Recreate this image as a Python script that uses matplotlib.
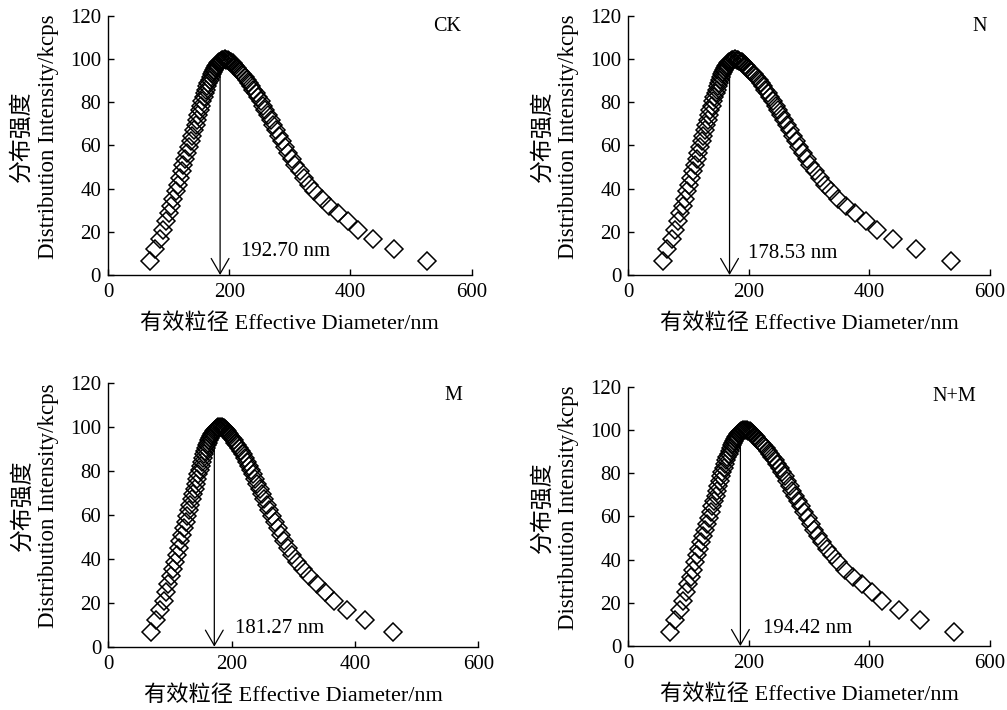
import numpy as np
import matplotlib
matplotlib.use("Agg")
import matplotlib.pyplot as plt

plt.rcParams['font.family'] = ['Liberation Serif', 'Noto Sans CJK SC']

# shared intensity levels (left flank rising, then right flank falling)
intensity = [6.6, 12, 16.6, 20.9, 24.8, 28.5, 32, 35.4, 38.7, 41.9, 45, 48, 51, 53.8,
             56.6, 59.3, 62, 64.6, 67.1, 69.5, 71.9, 74.2, 76.4, 78.5, 80.5, 82.4, 84.2,
             85.9, 87.5, 89, 90.4, 91.7, 92.9, 94, 95, 95.9, 96.7, 97.4, 98, 98.5, 98.9,
             99.3, 99.6, 99.8, 100,
             99.8, 99.6, 99.3, 98.9, 98.5, 98, 97.4, 96.7, 95.9, 95, 94, 92.9, 91.7, 90.4,
             89, 87.5, 85.9, 84.2, 82.4, 80.5, 78.5, 76.4, 74.2, 71.9, 69.5, 67.1, 64.6,
             62, 59.3, 56.6, 53.8, 51, 48, 45, 41.9, 38.7, 35.4, 32, 28.5, 24.8, 20.9,
             16.6, 12, 6.6]

diam_ck = [70, 77.6, 85.8, 91.5, 96, 100.3, 104.2, 107.9, 111.6, 115.0, 118.3, 121.4,
           124.6, 127.7, 130.8, 133.7, 136.6, 139.3, 142.0, 144.5, 146.9, 149.2, 151.4,
           153.5, 155.6, 157.9, 160.0, 162.1, 164.0, 165.8, 167.6, 169.6, 171.4, 173.0,
           174.5, 176.4, 178.2, 179.7, 181, 183, 184.6, 186.2, 187.7, 189.4, 193,
           195.4, 197.8, 199.9, 201.8, 203.7, 206, 207.8, 209.9, 212.3, 215, 218.2, 221.7,
           225.6, 229.7, 233.2, 236.5, 240, 243.8, 247.7, 251.9, 255.9, 259.8, 264, 268.4,
           273, 277.5, 282.3, 287.2, 292.5, 297.8, 303.4, 309, 316, 323.5, 331.3, 340.7,
           352.6, 364.8, 378.8, 395.3, 411.8, 437.6, 472.2, 526]

diam_n = [56.8, 64.3, 72.3, 77.8, 82.2, 86.4, 90.2, 93.9, 97.5, 100.8, 104.0, 107.0,
          110.2, 113.2, 116.2, 119.1, 121.9, 124.5, 127.2, 129.6, 132.0, 134.2, 136.4,
          138.4, 140.5, 142.7, 144.8, 146.8, 148.7, 150.4, 152.2, 154.1, 155.9, 157.5,
          158.9, 160.8, 162.5, 164.0, 165.3, 167.2, 168.8, 170.4, 171.8, 173.5, 177,
          179.6, 182.2, 184.4, 186.5, 188.5, 191.0, 192.9, 195.2, 197.7, 200.7, 204.1,
          207.9, 212.0, 216.5, 220.2, 223.8, 227.5, 231.6, 235.8, 240.3, 244.6, 248.8,
          253.3, 258.1, 263.0, 267.8, 273.0, 278.3, 284.0, 289.7, 295.7, 301.7, 309.2,
          317.3, 325.7, 335.8, 348.6, 361.7, 376.7, 394.5, 412.2, 439.9, 477.1, 535.0]

diam_m = [70.1, 77.0, 84.4, 89.6, 93.7, 97.6, 101.2, 104.6, 107.9, 111.0, 114.0, 116.8,
          119.8, 122.6, 125.4, 128.0, 130.7, 133.1, 135.6, 137.9, 140.0, 142.1, 144.1,
          146.1, 148.0, 150.1, 152.0, 153.9, 155.6, 157.2, 158.9, 160.7, 162.3, 163.8,
          165.2, 166.9, 168.5, 169.9, 171.1, 172.9, 174.4, 175.8, 177.2, 178.7, 182,
          184.0, 186.0, 187.8, 189.4, 191.0, 192.9, 194.4, 196.2, 198.2, 200.5, 203.2,
          206.1, 209.4, 212.8, 215.8, 218.5, 221.5, 224.7, 227.9, 231.5, 234.8, 238.1,
          241.6, 245.3, 249.2, 253.0, 257.0, 261.1, 265.6, 270.0, 274.7, 279.4, 285.3,
          291.6, 298.2, 306.1, 316.1, 326.3, 338.1, 351.9, 365.8, 387.5, 416.5, 461.7]

diam_nm = [69.0, 76.8, 85.1, 90.9, 95.4, 99.8, 103.8, 107.5, 111.3, 114.8, 118.1, 121.3,
           124.5, 127.7, 130.8, 133.8, 136.7, 139.4, 142.2, 144.7, 147.2, 149.5, 151.7,
           153.9, 156.0, 158.3, 160.5, 162.6, 164.5, 166.4, 168.2, 170.2, 172.1, 173.7,
           175.2, 177.1, 179.0, 180.5, 181.8, 183.8, 185.5, 187.1, 188.6, 190.3, 194,
           196.5, 199.0, 201.2, 203.2, 205.1, 207.5, 209.4, 211.6, 214.1, 216.9, 220.2,
           223.8, 227.9, 232.2, 235.8, 239.2, 242.9, 246.8, 250.9, 255.3, 259.4, 263.5,
           267.8, 272.4, 277.2, 281.9, 286.9, 292.0, 297.5, 303.0, 308.8, 314.6, 321.9,
           329.7, 337.8, 347.6, 360.0, 372.7, 387.2, 404.4, 421.6, 448.4, 484.4, 540.3]

panel_names = ['CK', 'N', 'M', 'N+M']
effective_diam = ['192.70 nm', '178.53 nm', '181.27 nm', '194.42 nm']
arrow_x = [185, 168, 172, 186]
label_x = [220, 199, 205, 223]
label_y = [10.8, 10, 8.4, 8.2]

FIG_W, FIG_H = 1007, 710
# axes boxes in figure fractions (left, bottom, width, height)
boxes = [[0.1072, 0.6127, 0.3612, 0.3648],
         [0.6239, 0.6127, 0.3592, 0.3648],
         [0.1075, 0.0892, 0.3674, 0.3714],
         [0.6239, 0.0901, 0.3592, 0.3652]]
name_pos = [(0.972, 0.961), (0.991, 0.961), (0.958, 0.951), (0.963, 0.961)]


def draw_panel(ax, box, diam, name, text, ax_x, tx, ty, npos):
    ax.plot(diam, intensity, ls='none', marker='D', ms=8.8, mfc='none',
            mec='black', mew=1.1, clip_on=False)
    ax.annotate('', xy=(ax_x, 0), xytext=(ax_x, 97),
                arrowprops=dict(arrowstyle='->,head_length=0.55,head_width=0.32',
                                lw=0.9, color='black', shrinkA=0, shrinkB=0,
                                mutation_scale=20))
    ax.text(tx, ty, text, fontsize=15, va='center', ha='left')
    ax.text(npos[0], npos[1], name, fontsize=14.5, ha='right', va='center',
            transform=ax.transAxes)

    ax.set_xlim(0, 600)
    ax.set_ylim(0, 120)
    ax.set_xticks([0, 200, 400, 600])
    ax.set_yticks(range(0, 121, 20))
    for s in ['top', 'right']:
        ax.spines[s].set_visible(False)
    for s in ['left', 'bottom']:
        ax.spines[s].set_linewidth(1.0)
    ax.tick_params(direction='in', length=4, width=1.0, labelsize=15)
    ax.tick_params(axis='x', pad=6)
    ax.tick_params(axis='y', pad=5)
    ax.set_xlabel('有效粒径 Effective Diameter/nm', fontsize=16, labelpad=8)
    ax.set_ylabel('分布强度\nDistribution Intensity/kcps', fontsize=16.5,
                  linespacing=1.3)
    # place the y label a little above centre, as in the original
    ax.yaxis.set_label_coords(-49.0 / (box[2] * FIG_W), 0.535)


def main():
    fig = plt.figure(figsize=(FIG_W / 100, FIG_H / 100), dpi=100)
    datasets = [diam_ck, diam_n, diam_m, diam_nm]
    for i in range(4):
        ax = fig.add_axes(boxes[i])
        draw_panel(ax, boxes[i], datasets[i], panel_names[i], effective_diam[i],
                   arrow_x[i], label_x[i], label_y[i], name_pos[i])
    fig.savefig('out.png', dpi=100)


if __name__ == "__main__":
    main()
